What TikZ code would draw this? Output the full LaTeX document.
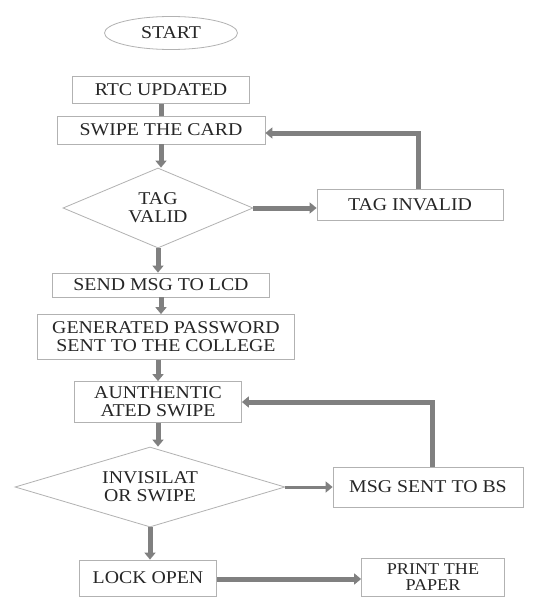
\documentclass[tikz,border=0pt]{standalone}
\usepackage{fontspec}
\setmainfont{Liberation Serif}[FakeStretch=1.1]
\usetikzlibrary{shapes.geometric,arrows.meta}
\begin{document}
\begin{tikzpicture}[x=1pt,y=-1pt,
 box/.style={draw=black!30,line width=0.8pt,fill=white,inner sep=0pt,align=center,text=black!85,font=\fontsize{18}{18}\selectfont},
 dia/.style={box,diamond,shape aspect=2.3},
 flow/.style={draw=black!50,line width=5pt,-{Triangle[width=11pt,length=7pt]}},
 bar/.style={draw=black!50,line width=5pt},
]
\useasboundingbox (0,0) rectangle (544,597);
\clip (0,0) rectangle (544,597);
\fill[white] (0,0) rectangle (544,597);
\node[box,ellipse,minimum width=133,minimum height=33] (start) at (171,33) {START};
\node[box,minimum width=177,minimum height=27] (rtc) at (161,90) {RTC UPDATED};
\node[box,minimum width=208,minimum height=28] (swipe) at (161,130) {SWIPE THE CARD};
\node[dia,minimum width=190,minimum height=80] (tag) at (158,208) {TAG\\VALID};
\node[box,minimum width=186,minimum height=31] (inv) at (410,205) {TAG INVALID};
\node[box,minimum width=217,minimum height=24] (lcd) at (161,285) {SEND MSG TO LCD};
\node[box,minimum width=257,minimum height=45] (gen) at (166,337) {GENERATED PASSWORD\\SENT TO THE COLLEGE};
\node[box,minimum width=167,minimum height=41] (auth) at (158,402) {AUNTHENTIC\\ATED SWIPE};
\node[dia,minimum width=270,minimum height=80] (invig) at (150,487) {INVISILAT\\OR SWIPE};
\node[box,minimum width=190,minimum height=40] (bs) at (428,487) {MSG SENT TO BS};
\node[box,minimum width=137,minimum height=36] (lock) at (148,578) {LOCK OPEN};
\node[box,minimum width=143,minimum height=38,font=\fontsize{16.5}{16}\selectfont] (print) at (433,577.5) {PRINT THE\\PAPER};

\draw[bar] (rtc.south) -- (rtc.south |- swipe.north);
\draw[flow] (swipe.south) -- (swipe.south |- tag.north);
\draw[flow] (tag.east) -- (tag.east -| inv.west);
\draw[flow] ([xshift=8pt]inv.north) |- ([yshift=-3pt]swipe.east);
\draw[flow] (tag.south) -- (tag.south |- lcd.north);
\draw[flow] (lcd.south) -- (lcd.south |- gen.north);
\draw[flow] ([xshift=-8pt]gen.south) -- ([xshift=-8pt]gen.south |- auth.north);
\draw[flow] (auth.south) -- (auth.south |- invig.north);
\draw[flow,line width=3pt] (invig.east) -- (bs.west);
\draw[flow] ([xshift=4pt]bs.north) |- (auth.east);
\draw[flow] (invig.south) -- (invig.south |- lock.north);
\draw[flow] ([yshift=-1pt]lock.east) -- ([yshift=-1pt]lock.east -| print.west);
\end{tikzpicture}
\end{document}
